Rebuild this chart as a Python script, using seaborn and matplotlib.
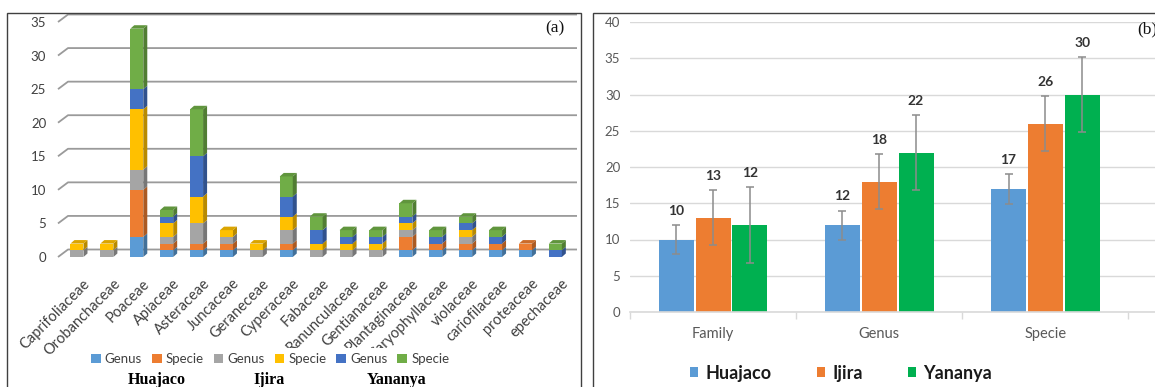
import numpy as np
import pandas as pd
import matplotlib
matplotlib.use("Agg")
import matplotlib.pyplot as plt
import seaborn as sns
from matplotlib.patches import Polygon, Rectangle
from matplotlib import transforms, colors as mcolors

# ---------------- data ----------------
families = ["Caprifoliaceae", "Orobanchaceae", "Poaceae", "Apiaceae", "Asteraceae",
            "Juncaceae", "Geraneceae", "Cyperaceae", "Fabaceae", "Ranunculaceae",
            "Gentianaceae", "Plantaginaceae", "Caryophyllaceae", "violaceae",
            "cariofilaceae", "proteaceae", "epechaceae"]
huajaco_genus = [0, 0, 3, 1, 1, 1, 0, 1, 0, 0, 0, 1, 1, 1, 1, 1, 0]
huajaco_specie = [0, 0, 7, 1, 1, 1, 0, 1, 0, 0, 0, 2, 1, 1, 1, 1, 0]
ijira_genus = [1, 1, 3, 1, 3, 1, 1, 2, 1, 1, 1, 1, 0, 1, 0, 0, 0]
ijira_specie = [1, 1, 9, 2, 4, 1, 1, 2, 1, 1, 1, 1, 0, 1, 0, 0, 0]
yananya_genus = [0, 0, 3, 1, 6, 0, 0, 3, 2, 1, 1, 1, 1, 1, 1, 0, 1]
yananya_specie = [0, 0, 9, 1, 7, 0, 0, 3, 2, 1, 1, 2, 1, 1, 1, 0, 1]

layer_labels = ["Genus", "Specie", "Genus", "Specie", "Genus", "Specie"]
layer_colors = ["#5B9BD5", "#ED7D31", "#A5A5A5", "#FFC000", "#4472C4", "#70AD47"]
site_names = ["Huajaco", "Ijira", "Yananya"]

levels = ["Family", "Genus", "Specie"]
huajaco_richness = [10, 12, 17]
ijira_richness = [13, 18, 26]
yananya_richness = [12, 22, 30]
huajaco_err = [2.0, 2.0, 2.1]
ijira_err = [3.8, 3.8, 3.8]
yananya_err = [5.2, 5.2, 5.2]
site_colors = ["#5B9BD5", "#ED7D31", "#00B050"]

# ---------------- style ----------------
sns.set_theme(style="white")
plt.rcParams["font.family"] = ["Lato", "DejaVu Sans"]

W, H = 1155, 387
fig = plt.figure(figsize=(W / 100, H / 100), dpi=100)

# panel frames
fig.add_artist(Rectangle((7 / W, -0.1), (581 - 7) / W, (H - 13) / H + 0.1,
                         transform=fig.transFigure, fill=False, lw=1.0, ec="#404040"))
fig.add_artist(Rectangle((593 / W, -0.1), 0.5, (H - 13) / H + 0.1,
                         transform=fig.transFigure, fill=False, lw=1.0, ec="#404040"))

# ================= panel (a): stacked pseudo-3D columns =================
ax1 = fig.add_axes([58 / W, 130 / H, (567 - 58) / W, (365 - 130) / H])
layers = [huajaco_genus, huajaco_specie, ijira_genus, ijira_specie,
          yananya_genus, yananya_specie]

bottom = np.zeros(len(families))
layer_patches = []
for vals, col in zip(layers, layer_colors):
    n0 = len(ax1.patches)
    sns.barplot(x=families, y=vals, bottom=bottom.copy(), color=col, saturation=1,
                width=0.435, order=families, errorbar=None, ax=ax1,
                linewidth=0, zorder=3)
    layer_patches.append(ax1.patches[n0:])
    bottom += np.array(vals, dtype=float)

ax1.set_xlim(-0.635, 16.39)
ax1.set_ylim(0, 35)
for s in ax1.spines.values():
    s.set_visible(False)
ax1.set_yticks(range(0, 36, 5))
ax1.tick_params(axis="y", length=0, pad=8.5, labelsize=9.5, labelcolor="#404040")
ax1.tick_params(axis="x", length=0, pad=14, labelsize=10.5, labelcolor="#404040")
ax1.set_xlabel("")
ax1.set_ylabel("")
for lab in ax1.get_xticklabels():
    lab.set_rotation(45)
    lab.set_ha("right")
    lab.set_rotation_mode("anchor")
    lab.set_transform(lab.get_transform() +
                      transforms.ScaledTranslation(0.06, 0, fig.dpi_scale_trans))


def px_to_data(ax, dx_px, dy_px):
    p0 = ax.transData.transform((0, 0))
    p1 = ax.transData.transform((1, 1))
    return dx_px / (p1[0] - p0[0]), dy_px / (p1[1] - p0[1])


# back wall gridlines with the receding floor edge
wdx, wdy = px_to_data(ax1, 10, 7.5)
x_lo, x_hi = ax1.get_xlim()
for v in range(0, 36, 5):
    ax1.plot([x_lo, x_lo + wdx, x_hi + wdx], [v, v + wdy, v + wdy],
             color="#9a9a9a", lw=1.3, clip_on=False, zorder=1,
             solid_capstyle="butt")

# depth faces of the columns
bdx, bdy = px_to_data(ax1, 4, 3.5)
top_layer = {}
for li, patches in enumerate(layer_patches):
    for ci, p in enumerate(patches):
        if p.get_height() > 0:
            top_layer[ci] = li

for li, patches in enumerate(layer_patches):
    base = np.array(mcolors.to_rgb(layer_colors[li]))
    side = tuple(base * 0.72)
    topc = tuple(base * 0.86)
    for ci, p in enumerate(patches):
        h = p.get_height()
        if h <= 0:
            continue
        x0, y0, w = p.get_x(), p.get_y(), p.get_width()
        x1, y1 = x0 + w, y0 + h
        ax1.add_patch(Polygon([(x1, y0), (x1 + bdx, y0 + bdy), (x1 + bdx, y1 + bdy), (x1, y1)],
                              closed=True, fc=side, ec="none", zorder=3, clip_on=False))
        if top_layer.get(ci) == li:
            ax1.add_patch(Polygon([(x0, y1), (x0 + bdx, y1 + bdy), (x1 + bdx, y1 + bdy), (x1, y1)],
                                  closed=True, fc=topc, ec="none", zorder=3, clip_on=False))

fig.text(555 / W, 1 - 28 / H, "(a)", ha="center", va="center",
         fontsize=12.5, family=["Liberation Serif", "DejaVu Serif"], color="#111111")

handles_a = [layer_patches[i][0] for i in range(6)]
leg_a = fig.legend(handles_a, layer_labels, loc="center", bbox_to_anchor=(270 / W, 1 - 359 / H),
                   ncol=6, frameon=True, facecolor="white", edgecolor="none", framealpha=1,
                   fancybox=False, fontsize=9.5, handlelength=0.75, handleheight=0.75,
                   handletextpad=0.3, columnspacing=0.75, borderpad=0.35)
leg_a.set_zorder(10)
for t in leg_a.get_texts():
    t.set_color("#404040")

for name, xc in zip(site_names, [157, 269, 397]):
    fig.text(xc / W, 2.6 / H, name, ha="center", va="baseline", fontsize=11.5,
             fontweight="bold", family=["Liberation Serif", "DejaVu Serif"], color="#000000")

# ================= panel (b): grouped columns with error bars =================
ax2 = fig.add_axes([630 / W, 75 / H, 530 / W, 290 / H])
df_b = pd.DataFrame({
    "level": levels * 3,
    "site": np.repeat(site_names, 3),
    "richness": huajaco_richness + ijira_richness + yananya_richness,
    "err": huajaco_err + ijira_err + yananya_err,
})
sns.barplot(data=df_b, x="level", y="richness", hue="site", order=levels,
            hue_order=site_names, palette=site_colors, saturation=1, width=0.665,
            gap=0.05, errorbar=None, legend=False, ax=ax2, linewidth=0, zorder=2)
bar_containers = list(ax2.containers)

ax2.set_xlim(-0.5, 2.69)
ax2.set_ylim(0, 40)
ax2.set_yticks(range(0, 41, 5))
ax2.yaxis.grid(True, color="#d9d9d9", lw=1)
ax2.set_axisbelow(True)
for k, s in ax2.spines.items():
    s.set_visible(k == "bottom")
ax2.spines["bottom"].set_color("#d9d9d9")
ax2.spines["bottom"].set_linewidth(1.2)
ax2.set_xticks([-0.5, 0.5, 1.5, 2.5], minor=True)
ax2.tick_params(axis="x", which="minor", bottom=True, length=5, width=1, color="#d9d9d9")
ax2.tick_params(axis="x", which="major", length=0, pad=11, labelsize=10.5, labelcolor="#595959")
ax2.tick_params(axis="y", length=0, pad=7, labelsize=9.5, labelcolor="#595959")
ax2.set_xlabel("")
ax2.set_ylabel("")

for cont, site in zip(bar_containers, site_names):
    errs = df_b.loc[df_b["site"] == site, "err"].to_numpy()
    xs = [p.get_x() + p.get_width() / 2 for p in cont.patches]
    hs = [p.get_height() for p in cont.patches]
    ax2.errorbar(xs, hs, yerr=errs, fmt="none", ecolor="#8c8c8c", elinewidth=1.1,
                 capsize=3.2, capthick=1.1, zorder=4)
    for x, h, e in zip(xs, hs, errs):
        ax2.annotate(f"{h:.0f}", (x, h + e), xytext=(0, 14), textcoords="offset pixels",
                     ha="center", va="center", fontsize=10, fontweight="bold",
                     color="#333333", zorder=5)

fig.text(1137 / W, 1 - 29 / H, "(b)", ha="left", va="center", fontsize=12.5,
         family=["Liberation Serif", "DejaVu Serif"], color="#111111")

handles_b = [c.patches[0] for c in bar_containers]
fig.legend(handles_b, site_names, loc="center", bbox_to_anchor=(841 / W, 1 - 373 / H),
           ncol=3, frameon=False, prop={"size": 13, "weight": "bold"},
           handlelength=0.45, handleheight=0.45, handletextpad=0.4, columnspacing=2.5,
           borderpad=0, labelcolor="#1a1a1a")

fig.savefig("out.png", dpi=100)
